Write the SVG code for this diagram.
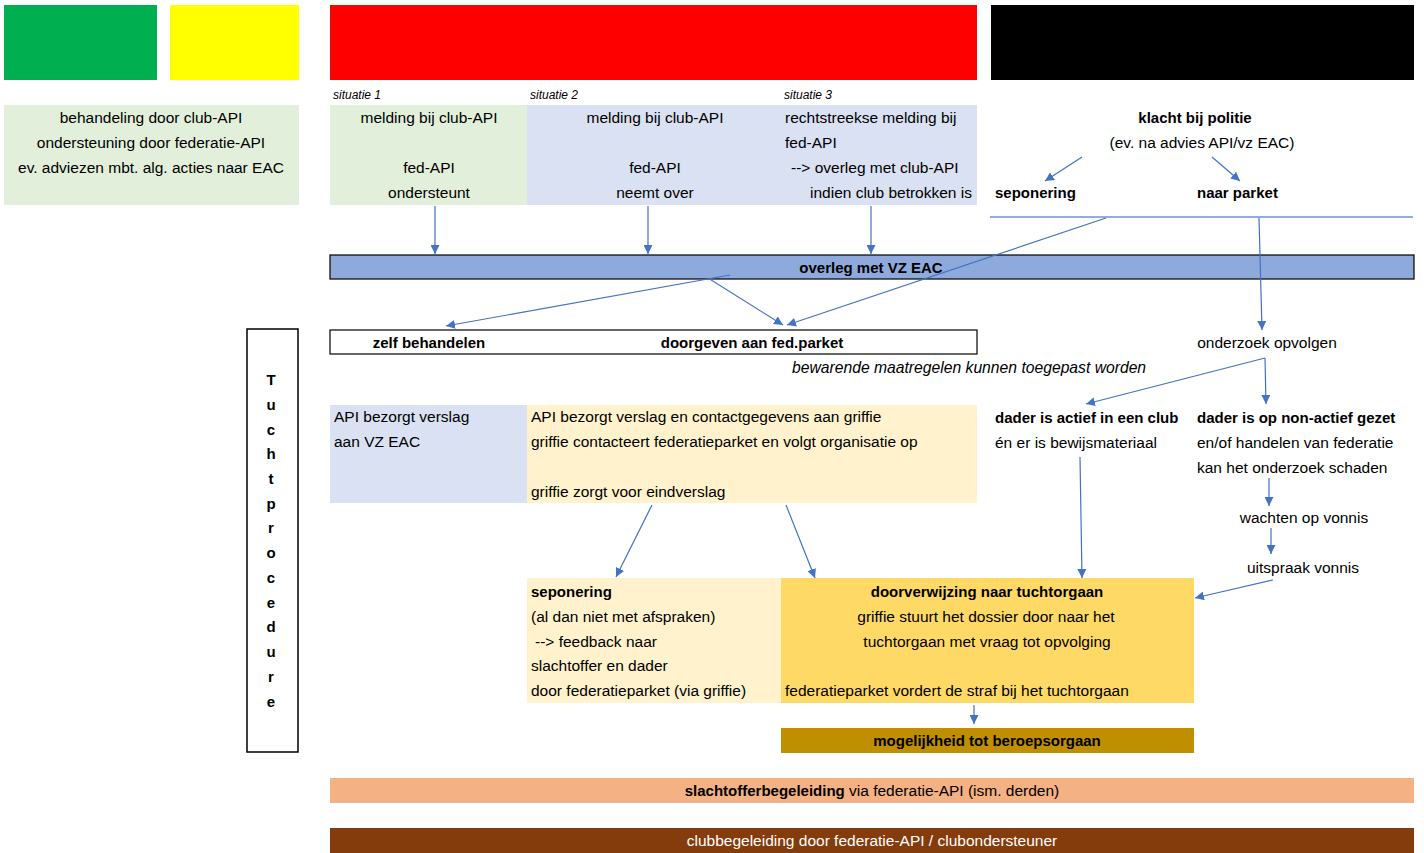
<svg xmlns="http://www.w3.org/2000/svg" width="1424" height="853" viewBox="0 0 1424 853">
<defs>
<marker id="ah" viewBox="0 0 10 10" refX="10" refY="5" markerWidth="9" markerHeight="9" markerUnits="userSpaceOnUse" orient="auto">
<path d="M0,0 L10,5 L0,10 z" fill="#4472C4"/>
</marker>
<style>
text{font-family:"Liberation Sans",Arial,sans-serif;font-size:15.5px;fill:#000}
.b{font-weight:bold;font-size:15px}
.i{font-style:italic;font-size:15.7px}
.s{font-size:12px;font-style:italic}
.c{text-anchor:middle}
.e{text-anchor:end}
.w{fill:#fff}
.ar{stroke:#4472C4;stroke-width:1.2;fill:none;marker-end:url(#ah)}
.bx{stroke:#000;stroke-width:1.2}
</style>
</defs>
<rect width="1424" height="853" fill="#fff"/>

<g id="topbars">
<rect x="4" y="5" width="153" height="75" fill="#00B050"/>
<rect x="170" y="5" width="129" height="75" fill="#FFFF00"/>
<rect x="330" y="5" width="647" height="75" fill="#FF0000"/>
<rect x="991" y="5" width="423" height="75" fill="#000000"/>
</g>

<g id="green-info">
<rect x="4" y="105" width="295" height="100" fill="#E2EFDA"/>
<text x="151" y="123" class="c">behandeling door club-API</text>
<text x="151" y="148" class="c">ondersteuning door federatie-API</text>
<text x="151" y="173" class="c">ev. adviezen mbt. alg. acties naar EAC</text>
</g>

<g id="situatie1">
<text x="333" y="99" class="s">situatie 1</text>
<rect x="330" y="105" width="197" height="100" fill="#E2EFDA"/>
<text x="429" y="123" class="c">melding bij club-API</text>
<text x="429" y="173" class="c">fed-API</text>
<text x="429" y="198" class="c">ondersteunt</text>
</g>

<g id="situatie2">
<text x="530" y="99" class="s">situatie 2</text>
<rect x="527" y="105" width="254" height="100" fill="#D9E1F2"/>
<text x="655" y="123" class="c">melding bij club-API</text>
<text x="655" y="173" class="c">fed-API</text>
<text x="655" y="198" class="c">neemt over</text>
</g>

<g id="situatie3">
<text x="784" y="99" class="s">situatie 3</text>
<rect x="780" y="105" width="197" height="100" fill="#D9E1F2"/>
<text x="785" y="123">rechtstreekse melding bij</text>
<text x="785" y="148">fed-API</text>
<text x="791" y="173">--&gt; overleg met club-API</text>
<text x="972" y="198" class="e">indien club betrokken is</text>
</g>

<g id="politie">
<text x="1195" y="123" class="c b">klacht bij politie</text>
<text x="1202" y="148" class="c">(ev. na advies API/vz EAC)</text>
</g>
<g id="seponering-politie"><text x="995" y="198" class="b">seponering</text></g>
<g id="naar-parket"><text x="1197" y="198" class="b">naar parket</text></g>

<g id="overleg">
<rect x="330" y="255" width="1084" height="24" fill="#8EA9DB" class="bx"/>
<text x="871" y="273" class="c b">overleg met VZ EAC</text>
</g>

<g id="keuze">
<rect x="330" y="330" width="647" height="24" fill="#fff" class="bx"/>
<text x="429" y="348" class="c b">zelf behandelen</text>
<text x="752" y="348" class="c b">doorgeven aan fed.parket</text>
</g>
<g id="bewarende"><text x="792" y="373" class="i">bewarende maatregelen kunnen toegepast worden</text></g>

<g id="onderzoek"><text x="1267" y="348" class="c">onderzoek opvolgen</text></g>

<g id="tuchtprocedure">
<rect x="247" y="329" width="51" height="423" fill="#fff" stroke="#000" stroke-width="1.5"/>
<text x="271" y="385" class="c b">T</text>
<text x="271" y="410" class="c b">u</text>
<text x="271" y="435" class="c b">c</text>
<text x="271" y="459" class="c b">h</text>
<text x="271" y="484" class="c b">t</text>
<text x="271" y="509" class="c b">p</text>
<text x="271" y="533" class="c b">r</text>
<text x="271" y="558" class="c b">o</text>
<text x="271" y="583" class="c b">c</text>
<text x="271" y="608" class="c b">e</text>
<text x="271" y="632" class="c b">d</text>
<text x="271" y="657" class="c b">u</text>
<text x="271" y="682" class="c b">r</text>
<text x="271" y="707" class="c b">e</text>
</g>

<g id="verslag-zelf">
<rect x="330" y="405" width="197" height="98" fill="#D9E1F2"/>
<text x="334" y="422">API bezorgt verslag</text>
<text x="334" y="447">aan VZ EAC</text>
</g>

<g id="verslag-griffie">
<rect x="527" y="405" width="450" height="98" fill="#FFF2CC"/>
<text x="531" y="422">API bezorgt verslag en contactgegevens aan griffie</text>
<text x="531" y="447">griffie contacteert federatieparket en volgt organisatie op</text>
<text x="531" y="497">griffie zorgt voor eindverslag</text>
</g>

<g id="dader-actief">
<text x="995" y="423" class="b">dader is actief in een club</text>
<text x="995" y="448">én er is bewijsmateriaal</text>
</g>

<g id="dader-nonactief">
<text x="1197" y="423" class="b">dader is op non-actief gezet</text>
<text x="1197" y="448">en/of handelen van federatie</text>
<text x="1197" y="473">kan het onderzoek schaden</text>
</g>

<g id="wachten"><text x="1304" y="523" class="c">wachten op vonnis</text></g>
<g id="uitspraak"><text x="1303" y="573" class="c">uitspraak vonnis</text></g>

<g id="seponering">
<rect x="527" y="578" width="254" height="125" fill="#FFF2CC"/>
<text x="531" y="597" class="b">seponering</text>
<text x="531" y="622">(al dan niet met afspraken)</text>
<text x="535" y="647">--&gt; feedback naar</text>
<text x="531" y="671">slachtoffer en dader</text>
<text x="531" y="696">door federatieparket (via griffie)</text>
</g>

<g id="tuchtorgaan">
<rect x="781" y="578" width="413" height="125" fill="#FFD966"/>
<text x="987" y="597" class="c b">doorverwijzing naar tuchtorgaan</text>
<text x="986" y="622" class="c">griffie stuurt het dossier door naar het</text>
<text x="987" y="647" class="c">tuchtorgaan met vraag tot opvolging</text>
<text x="785" y="696">federatieparket vordert de straf bij het tuchtorgaan</text>
</g>

<g id="beroep">
<rect x="781" y="728" width="413" height="25" fill="#BF8F00"/>
<text x="987" y="746" class="c b">mogelijkheid tot beroepsorgaan</text>
</g>

<g id="slachtoffer">
<rect x="330" y="778" width="1084" height="25" fill="#F4B183"/>
<text x="872" y="796" class="c"><tspan class="b">slachtofferbegeleiding</tspan> via federatie-API (ism. derden)</text>
</g>

<g id="club">
<rect x="330" y="828" width="1084" height="25" fill="#843C0C"/>
<text x="872" y="846" class="c w">clubbegeleiding door federatie-API / clubondersteuner</text>
</g>

<g id="connectors">
<line x1="435" y1="206" x2="435" y2="254" class="ar"/>
<line x1="648" y1="206" x2="648" y2="254" class="ar"/>
<line x1="871" y1="206" x2="871" y2="254" class="ar"/>
<line x1="1082" y1="157" x2="1045" y2="181" class="ar"/>
<line x1="1212" y1="157" x2="1240" y2="181" class="ar"/>
<line x1="990" y1="217" x2="1413" y2="217" stroke="#6F8FD3" stroke-width="1.5"/>
<line x1="1106" y1="218" x2="787" y2="325" class="ar"/>
<line x1="1259" y1="218" x2="1262" y2="330" class="ar"/>
<line x1="730" y1="275" x2="446" y2="326" class="ar"/>
<line x1="708" y1="278" x2="783" y2="325" class="ar"/>
<line x1="1265" y1="358" x2="1086" y2="404" class="ar"/>
<line x1="1265" y1="358" x2="1266" y2="404" class="ar"/>
<line x1="1269" y1="478" x2="1269" y2="506" class="ar"/>
<line x1="1271" y1="528" x2="1271" y2="554" class="ar"/>
<line x1="1273" y1="580" x2="1195" y2="598" class="ar"/>
<line x1="1080" y1="457" x2="1082" y2="578" class="ar"/>
<line x1="652" y1="505" x2="616" y2="577" class="ar"/>
<line x1="786" y1="505" x2="815" y2="578" class="ar"/>
<line x1="974" y1="705" x2="974" y2="724" class="ar"/>
</g>
</svg>
